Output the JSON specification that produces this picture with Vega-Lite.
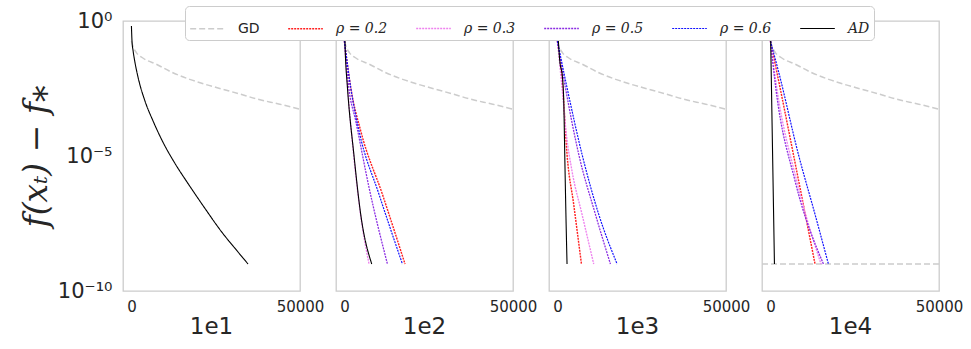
{
  "$schema": "https://vega.github.io/schema/vega-lite/v6.json",
  "background": "white",
  "padding": {"left": 20, "top": 5, "right": 5, "bottom": 5},
  "data": {"values": [
    {"p":"1e1","s":"GD","g":"a","x":0,"y":0.18},{"p":"1e1","s":"GD","g":"a","x":500,"y":0.112},{"p":"1e1","s":"GD","g":"a","x":1460,"y":0.0676},{"p":"1e1","s":"GD","g":"a","x":3500,"y":0.0417},{"p":"1e1","s":"GD","g":"a","x":7390,"y":0.0251},{"p":"1e1","s":"GD","g":"a","x":12000,"y":0.0126},{"p":"1e1","s":"GD","g":"a","x":17290,"y":0.0069},{"p":"1e1","s":"GD","g":"a","x":22000,"y":0.00447},{"p":"1e1","s":"GD","g":"a","x":27170,"y":0.00295},{"p":"1e1","s":"GD","g":"a","x":32000,"y":0.002},{"p":"1e1","s":"GD","g":"a","x":37550,"y":0.00126},{"p":"1e1","s":"GD","g":"a","x":44000,"y":0.00083},{"p":"1e1","s":"GD","g":"a","x":50000,"y":0.00054},
    {"p":"1e2","s":"GD","g":"a","x":0,"y":0.18},{"p":"1e2","s":"GD","g":"a","x":500,"y":0.112},{"p":"1e2","s":"GD","g":"a","x":1460,"y":0.0676},{"p":"1e2","s":"GD","g":"a","x":3500,"y":0.0417},{"p":"1e2","s":"GD","g":"a","x":7390,"y":0.0251},{"p":"1e2","s":"GD","g":"a","x":12000,"y":0.0126},{"p":"1e2","s":"GD","g":"a","x":17290,"y":0.0069},{"p":"1e2","s":"GD","g":"a","x":22000,"y":0.00447},{"p":"1e2","s":"GD","g":"a","x":27170,"y":0.00295},{"p":"1e2","s":"GD","g":"a","x":32000,"y":0.002},{"p":"1e2","s":"GD","g":"a","x":37550,"y":0.00126},{"p":"1e2","s":"GD","g":"a","x":44000,"y":0.00083},{"p":"1e2","s":"GD","g":"a","x":50000,"y":0.00054},
    {"p":"1e3","s":"GD","g":"a","x":0,"y":0.18},{"p":"1e3","s":"GD","g":"a","x":500,"y":0.112},{"p":"1e3","s":"GD","g":"a","x":1460,"y":0.0676},{"p":"1e3","s":"GD","g":"a","x":3500,"y":0.0417},{"p":"1e3","s":"GD","g":"a","x":7390,"y":0.0251},{"p":"1e3","s":"GD","g":"a","x":12000,"y":0.0126},{"p":"1e3","s":"GD","g":"a","x":17290,"y":0.0069},{"p":"1e3","s":"GD","g":"a","x":22000,"y":0.00447},{"p":"1e3","s":"GD","g":"a","x":27170,"y":0.00295},{"p":"1e3","s":"GD","g":"a","x":32000,"y":0.002},{"p":"1e3","s":"GD","g":"a","x":37550,"y":0.00126},{"p":"1e3","s":"GD","g":"a","x":44000,"y":0.00083},{"p":"1e3","s":"GD","g":"a","x":50000,"y":0.00054},
    {"p":"1e4","s":"GD","g":"a","x":0,"y":0.18},{"p":"1e4","s":"GD","g":"a","x":500,"y":0.112},{"p":"1e4","s":"GD","g":"a","x":1460,"y":0.0676},{"p":"1e4","s":"GD","g":"a","x":3500,"y":0.0417},{"p":"1e4","s":"GD","g":"a","x":7390,"y":0.0251},{"p":"1e4","s":"GD","g":"a","x":12000,"y":0.0126},{"p":"1e4","s":"GD","g":"a","x":17290,"y":0.0069},{"p":"1e4","s":"GD","g":"a","x":22000,"y":0.00447},{"p":"1e4","s":"GD","g":"a","x":27170,"y":0.00295},{"p":"1e4","s":"GD","g":"a","x":32000,"y":0.002},{"p":"1e4","s":"GD","g":"a","x":37550,"y":0.00126},{"p":"1e4","s":"GD","g":"a","x":44000,"y":0.00083},{"p":"1e4","s":"GD","g":"a","x":50000,"y":0.00054},
    {"p":"1e4","s":"GD","g":"b","x":-2500,"y":1e-9},{"p":"1e4","s":"GD","g":"b","x":50000,"y":1e-9},

    {"p":"1e1","s":"AD","g":"a","x":0,"y":0.65},{"p":"1e1","s":"AD","g":"a","x":170,"y":0.18},{"p":"1e1","s":"AD","g":"a","x":500,"y":0.078},{"p":"1e1","s":"AD","g":"a","x":1000,"y":0.0316},{"p":"1e1","s":"AD","g":"a","x":2000,"y":0.0079},{"p":"1e1","s":"AD","g":"a","x":4000,"y":1.1e-3},{"p":"1e1","s":"AD","g":"a","x":6400,"y":2e-4},{"p":"1e1","s":"AD","g":"a","x":9400,"y":3.16e-5},{"p":"1e1","s":"AD","g":"a","x":12800,"y":5.6e-6},{"p":"1e1","s":"AD","g":"a","x":16800,"y":9.5e-7},{"p":"1e1","s":"AD","g":"a","x":21700,"y":1.2e-7},{"p":"1e1","s":"AD","g":"a","x":26700,"y":1.58e-8},{"p":"1e1","s":"AD","g":"a","x":31600,"y":2.8e-9},{"p":"1e1","s":"AD","g":"a","x":34580,"y":1e-9},

    {"p":"1e2","s":"ρ = 0.2","g":"a","x":0,"y":0.18},{"p":"1e2","s":"ρ = 0.2","g":"a","x":1870,"y":0.0034},{"p":"1e2","s":"ρ = 0.2","g":"a","x":4830,"y":8.5e-5},{"p":"1e2","s":"ρ = 0.2","g":"a","x":11270,"y":3.8e-7},{"p":"1e2","s":"ρ = 0.2","g":"a","x":17970,"y":1e-9},
    {"p":"1e2","s":"ρ = 0.3","g":"a","x":0,"y":0.18},{"p":"1e2","s":"ρ = 0.3","g":"a","x":900,"y":0.004},{"p":"1e2","s":"ρ = 0.3","g":"a","x":2700,"y":1.2e-5},{"p":"1e2","s":"ρ = 0.3","g":"a","x":4700,"y":8e-8},{"p":"1e2","s":"ρ = 0.3","g":"a","x":7300,"y":1e-9},
    {"p":"1e2","s":"ρ = 0.5","g":"a","x":0,"y":0.18},{"p":"1e2","s":"ρ = 0.5","g":"a","x":1300,"y":0.0034},{"p":"1e2","s":"ρ = 0.5","g":"a","x":3350,"y":2e-4},{"p":"1e2","s":"ρ = 0.5","g":"a","x":7300,"y":6.8e-7},{"p":"1e2","s":"ρ = 0.5","g":"a","x":12750,"y":1e-9},
    {"p":"1e2","s":"ρ = 0.6","g":"a","x":0,"y":0.18},{"p":"1e2","s":"ρ = 0.6","g":"a","x":1870,"y":0.0034},{"p":"1e2","s":"ρ = 0.6","g":"a","x":4330,"y":8.5e-5},{"p":"1e2","s":"ρ = 0.6","g":"a","x":10260,"y":3.8e-7},{"p":"1e2","s":"ρ = 0.6","g":"a","x":17200,"y":1e-9},
    {"p":"1e2","s":"AD","g":"a","x":0,"y":0.65},{"p":"1e2","s":"AD","g":"a","x":300,"y":0.05},{"p":"1e2","s":"AD","g":"a","x":900,"y":0.0034},{"p":"1e2","s":"AD","g":"a","x":2800,"y":1.15e-5},{"p":"1e2","s":"AD","g":"a","x":4830,"y":6.9e-8},{"p":"1e2","s":"AD","g":"a","x":8100,"y":1e-9},

    {"p":"1e3","s":"ρ = 0.2","g":"a","x":0,"y":0.18},{"p":"1e3","s":"ρ = 0.2","g":"a","x":1570,"y":0.0034},{"p":"1e3","s":"ρ = 0.2","g":"a","x":2850,"y":1.15e-5},{"p":"1e3","s":"ρ = 0.2","g":"a","x":4830,"y":1.6e-7},{"p":"1e3","s":"ρ = 0.2","g":"a","x":7120,"y":1e-9},
    {"p":"1e3","s":"ρ = 0.3","g":"a","x":0,"y":0.18},{"p":"1e3","s":"ρ = 0.3","g":"a","x":1370,"y":0.0034},{"p":"1e3","s":"ρ = 0.3","g":"a","x":2660,"y":6.3e-5},{"p":"1e3","s":"ρ = 0.3","g":"a","x":4330,"y":2.75e-6},{"p":"1e3","s":"ρ = 0.3","g":"a","x":7300,"y":6.9e-8},{"p":"1e3","s":"ρ = 0.3","g":"a","x":10770,"y":1e-9},
    {"p":"1e3","s":"ρ = 0.5","g":"a","x":0,"y":0.18},{"p":"1e3","s":"ρ = 0.5","g":"a","x":2370,"y":0.0034},{"p":"1e3","s":"ρ = 0.5","g":"a","x":6320,"y":1.15e-5},{"p":"1e3","s":"ρ = 0.5","g":"a","x":11270,"y":6.9e-8},{"p":"1e3","s":"ρ = 0.5","g":"a","x":15720,"y":1e-9},
    {"p":"1e3","s":"ρ = 0.6","g":"a","x":0,"y":0.18},{"p":"1e3","s":"ρ = 0.6","g":"a","x":2850,"y":0.0034},{"p":"1e3","s":"ρ = 0.6","g":"a","x":7300,"y":1.15e-5},{"p":"1e3","s":"ρ = 0.6","g":"a","x":12250,"y":6.9e-8},{"p":"1e3","s":"ρ = 0.6","g":"a","x":17700,"y":1e-9},
    {"p":"1e3","s":"AD","g":"a","x":0,"y":0.65},{"p":"1e3","s":"AD","g":"a","x":700,"y":0.033},{"p":"1e3","s":"AD","g":"a","x":1500,"y":0.008},{"p":"1e3","s":"AD","g":"a","x":1900,"y":8e-4},{"p":"1e3","s":"AD","g":"a","x":2170,"y":1.15e-5},{"p":"1e3","s":"AD","g":"a","x":2560,"y":3.9e-8},{"p":"1e3","s":"AD","g":"a","x":2850,"y":1e-9},

    {"p":"1e4","s":"ρ = 0.2","g":"a","x":0,"y":0.18},{"p":"1e4","s":"ρ = 0.2","g":"a","x":2850,"y":0.0034},{"p":"1e4","s":"ρ = 0.2","g":"a","x":7800,"y":2.75e-6},{"p":"1e4","s":"ρ = 0.2","g":"a","x":13230,"y":1e-9},
    {"p":"1e4","s":"ρ = 0.3","g":"a","x":0,"y":0.18},{"p":"1e4","s":"ρ = 0.3","g":"a","x":1870,"y":0.0034},{"p":"1e4","s":"ρ = 0.3","g":"a","x":7800,"y":1.2e-6},{"p":"1e4","s":"ρ = 0.3","g":"a","x":15000,"y":1e-9},
    {"p":"1e4","s":"ρ = 0.5","g":"a","x":0,"y":0.18},{"p":"1e4","s":"ρ = 0.5","g":"a","x":1570,"y":0.0034},{"p":"1e4","s":"ρ = 0.5","g":"a","x":7300,"y":1.2e-6},{"p":"1e4","s":"ρ = 0.5","g":"a","x":15720,"y":1e-9},
    {"p":"1e4","s":"ρ = 0.6","g":"a","x":0,"y":0.18},{"p":"1e4","s":"ρ = 0.6","g":"a","x":2370,"y":0.014},{"p":"1e4","s":"ρ = 0.6","g":"a","x":8300,"y":1.15e-5},{"p":"1e4","s":"ρ = 0.6","g":"a","x":13230,"y":6.9e-8},{"p":"1e4","s":"ρ = 0.6","g":"a","x":17200,"y":1e-9},
    {"p":"1e4","s":"AD","g":"a","x":0,"y":0.65},{"p":"1e4","s":"AD","g":"a","x":1190,"y":1e-9}
  ]},
  "facet": {"column": {"field": "p", "type": "nominal", "header": {"title": null, "labelOrient": "bottom", "labelFontSize": 23, "labelFont": "DejaVu Sans", "labelColor": "#262626", "labelPadding": 2}}},
  "spacing": 34,
  "spec": {
    "width": 177,
    "height": 270,
    "mark": {"type": "line", "clip": true, "interpolate": "monotone"},
    "encoding": {
      "x": {"field": "x", "type": "quantitative", "scale": {"domain": [-2500, 50000], "nice": false, "zero": false},
        "axis": {"values": [0, 50000], "format": "d", "title": null, "grid": false, "ticks": false, "domain": false, "labelFontSize": 15, "labelColor": "#262626", "labelPadding": 7, "labelFlush": false, "labelFont": "DejaVu Sans"}},
      "y": {"field": "y", "type": "quantitative", "scale": {"type": "log", "domain": [1e-10, 1], "nice": false},
        "axis": {"values": [1, 1e-5, 1e-10], "labelExpr": "datum.value >= 0.5 ? '10⁰' : datum.value >= 1e-6 ? '10⁻⁵' : '10⁻¹⁰'", "grid": false, "ticks": false, "domain": false, "labelFontSize": 21, "labelColor": "#262626", "labelPadding": 10, "labelFont": "DejaVu Sans",
          "title": "f(xₜ) − f⁎", "titleFont": "DejaVu Serif", "titleFontStyle": "italic", "titleFontWeight": "normal", "titleFontSize": 33, "titleColor": "#262626", "titlePadding": 4}},
      "color": {"field": "s", "type": "nominal", "scale": {"domain": ["GD", "ρ = 0.2", "ρ = 0.3", "ρ = 0.5", "ρ = 0.6", "AD"], "range": ["#cccccc", "#ff2020", "#ee82ee", "#8a2be2", "#1010ff", "#000000"]},
        "legend": {"orient": "none", "legendX": 62, "legendY": -15, "direction": "horizontal", "columns": 6, "title": null, "symbolType": "stroke", "symbolSize": 1200, "labelFontSize": 14, "labelColor": "#262626", "labelOffset": 12, "columnPadding": 25, "fillColor": "white", "strokeColor": "#cccccc", "cornerRadius": 4, "padding": 4,
          "encode": {"labels": {"update": {"fontStyle": {"signal": "datum.label == 'GD' ? 'normal' : 'italic'"}, "font": {"signal": "datum.label == 'GD' ? 'DejaVu Sans' : 'DejaVu Serif'"}}}}}},
      "strokeDash": {"field": "s", "type": "nominal", "scale": {"domain": ["GD", "ρ = 0.2", "ρ = 0.3", "ρ = 0.5", "ρ = 0.6", "AD"], "range": [[6, 3], [2, 1], [2, 1], [2, 1], [2, 1], [1, 0]]}},
      "strokeWidth": {"field": "s", "type": "ordinal", "scale": {"domain": ["GD", "ρ = 0.2", "ρ = 0.3", "ρ = 0.5", "ρ = 0.6", "AD"], "range": [1.5, 1.1, 1.1, 1.1, 1.1, 2]}},
      "detail": {"field": "g"}
    }
  },
  "config": {"view": {"stroke": "#cccccc", "strokeWidth": 1.3}, "font": "DejaVu Sans"}
}
